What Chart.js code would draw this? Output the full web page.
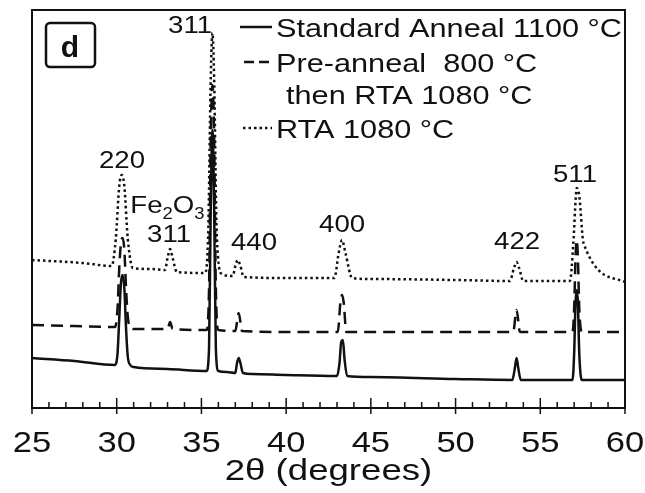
<!DOCTYPE html>
<html>
<head>
<meta charset="utf-8">
<script src="https://cdn.jsdelivr.net/npm/chart.js@4.4.1/dist/chart.umd.min.js"></script>
<style>
  body { margin: 0; background: #fff; }
</style>
</head>
<body>
<canvas id="xrd" width="645" height="493"></canvas>
<script>
// 2θ (degrees) and intensity (a.u.) for each sample
var standardX = [25, 27.5, 29.9, 30.05, 30.15, 30.25, 30.35, 30.45, 30.55, 30.65, 30.8, 31, 33, 35.3, 35.45, 35.55, 35.65, 35.75, 35.85, 36.0, 36.5, 37.0, 37.1, 37.2, 37.3, 37.45, 38, 40, 43.0, 43.15, 43.25, 43.35, 43.45, 43.6, 45, 50, 53.35, 53.5, 53.6, 53.7, 53.85, 55, 56.9, 57.0, 57.08, 57.15, 57.22, 57.3, 57.45, 58, 60];
var standardY = [50, 47, 43, 55, 90, 125, 133, 120, 80, 52, 43, 41, 39, 37, 60, 200, 278, 200, 60, 37, 36, 35, 45, 50, 45, 35, 34, 33, 32, 45, 66, 68, 48, 32, 31, 29, 28, 40, 50, 40, 28, 28, 28, 55, 105, 118, 105, 55, 28, 28, 28];

var preAnnealX = [25, 27.5, 29.9, 30.05, 30.15, 30.25, 30.35, 30.45, 30.55, 30.65, 30.8, 31, 33.0, 33.15, 33.3, 35.3, 35.45, 35.55, 35.65, 35.75, 35.85, 36.0, 37.0, 37.2, 37.4, 40, 43.05, 43.2, 43.3, 43.4, 43.55, 45, 50, 53.4, 53.6, 53.8, 55, 56.9, 57.0, 57.08, 57.15, 57.22, 57.3, 57.45, 60];
var preAnnealY = [83, 82, 81, 100, 140, 165, 170, 158, 120, 92, 80, 79, 79, 86, 79, 78, 120, 270, 323, 270, 120, 78, 77, 95, 77, 76, 76, 105, 113, 105, 76, 76, 76, 76, 98, 76, 76, 76, 100, 150, 168, 150, 100, 76, 76];

var rtaX = [25, 28, 29.7, 29.95, 30.15, 30.3, 30.45, 30.65, 30.95, 32, 32.85, 33.0, 33.15, 33.3, 33.55, 35.2, 35.4, 35.55, 35.65, 35.75, 35.9, 36.2, 36.85, 37.0, 37.15, 37.3, 37.5, 40, 42.85, 43.1, 43.3, 43.5, 43.9, 45, 50, 53.2, 53.45, 53.6, 53.75, 54.0, 55, 56.75, 56.95, 57.1, 57.15, 57.3, 57.55, 60];
var rtaY = [148, 145, 142, 170, 222, 233, 222, 170, 140, 139, 138, 150, 159, 150, 136, 135, 175, 330, 375, 330, 175, 134, 132, 142, 148, 142, 131, 130, 130, 155, 168, 155, 130, 129, 128, 127, 140, 146, 140, 127, 127, 127, 165, 212, 220, 212, 165, 126];

var legendLabels = ['Standard Anneal 1100 °C', 'Pre-anneal  800 °C', 'then RTA 1080 °C', 'RTA 1080 °C'];
var xTicks = [25, 30, 35, 40, 45, 50, 55, 60];
var peakNames = ['311', '220', '311', '440', '400', '422', '511'];

var FONT = '"Liberation Sans", Arial, sans-serif';
var INK = '#111';

function toPoints(xs, ys) {
    var pts = [];
    for (var i = 0; i < xs.length; i++) {
        pts.push({ x: xs[i], y: ys[i] });
    }
    return pts;
}

// text in this figure is a little wide, so stretch it horizontally
function wideText(ctx, text, x, y, align, stretch) {
    ctx.save();
    ctx.translate(x, y);
    ctx.scale(stretch || 1.15, 1);
    ctx.textAlign = align || 'left';
    ctx.fillText(text, 0, 0);
    ctx.restore();
}

function sampleLine(ctx, x1, x2, y, dash, width) {
    ctx.save();
    ctx.strokeStyle = INK;
    ctx.lineWidth = width;
    ctx.setLineDash(dash);
    ctx.beginPath();
    ctx.moveTo(x1, y);
    ctx.lineTo(x2, y);
    ctx.stroke();
    ctx.restore();
}

// frame, inward ticks, tick labels, peak labels, legend and panel tag
var decorations = {
    id: 'decorations',
    afterDraw: function(chart) {
        var ctx = chart.ctx;
        var a = chart.chartArea;
        var xs = chart.scales.x;
        var ys = chart.scales.y;

        ctx.save();
        ctx.strokeStyle = INK;
        ctx.fillStyle = INK;
        ctx.lineWidth = 2;
        ctx.strokeRect(a.left, a.top, a.right - a.left, a.bottom - a.top);

        // ticks every degree, longer ones at labelled positions
        ctx.lineWidth = 1.5;
        for (var t = 25; t <= 60; t++) {
            var px = xs.getPixelForValue(t);
            var major = t % 5 === 0;
            ctx.beginPath();
            ctx.moveTo(px, major ? a.bottom + 6 : a.bottom);
            ctx.lineTo(px, a.bottom - (major ? 10 : 6));
            ctx.stroke();
        }

        ctx.textBaseline = 'alphabetic';
        ctx.font = '30px ' + FONT;
        xTicks.forEach(function(v) {
            wideText(ctx, String(v), xs.getPixelForValue(v), 452, 'center');
        });
        ctx.font = '30px ' + FONT;
        wideText(ctx, '2θ (degrees)', (a.left + a.right) / 2, 480, 'center', 1.22);

        // peak labels: [2θ, intensity] of each label's baseline
        var labelAt = [[34.33, 375], [30.31, 240], [33.09, 166], [38.1, 158], [43.3, 176], [53.63, 159], [57.05, 226]];
        ctx.font = '24px ' + FONT;
        peakNames.forEach(function(name, i) {
            wideText(ctx, name, xs.getPixelForValue(labelAt[i][0]), ys.getPixelForValue(labelAt[i][1]), 'center');
        });

        // Fe2O3 with subscripts
        var fx = xs.getPixelForValue(30.8);
        var fy = ys.getPixelForValue(195);
        ctx.save();
        ctx.translate(fx, fy);
        ctx.scale(1.15, 1);
        ctx.textAlign = 'left';
        ctx.font = '24px ' + FONT;
        ctx.fillText('Fe', 0, 0);
        var w = ctx.measureText('Fe').width;
        ctx.font = '16px ' + FONT;
        ctx.fillText('2', w, 6);
        w += ctx.measureText('2').width;
        ctx.font = '24px ' + FONT;
        ctx.fillText('O', w, 0);
        w += ctx.measureText('O').width;
        ctx.font = '16px ' + FONT;
        ctx.fillText('3', w, 6);
        ctx.restore();

        // legend
        sampleLine(ctx, 240, 272, 27, [], 2.5);
        sampleLine(ctx, 244, 272, 62, [10, 5], 2.5);
        sampleLine(ctx, 243, 272, 128, [2.5, 3], 2.5);
        ctx.font = '26px ' + FONT;
        wideText(ctx, legendLabels[0], 276, 37, 'left', 1.18);
        wideText(ctx, legendLabels[1], 276, 72, 'left', 1.18);
        wideText(ctx, legendLabels[2], 286, 104, 'left', 1.18);
        wideText(ctx, legendLabels[3], 276, 138, 'left', 1.18);

        // panel tag
        ctx.lineWidth = 2.5;
        ctx.beginPath();
        ctx.roundRect(46, 23, 49, 44, 4);
        ctx.stroke();
        ctx.font = 'bold 30px ' + FONT;
        ctx.textAlign = 'center';
        ctx.fillText('d', 70, 57);
        ctx.restore();
    }
};

var ctx = document.getElementById('xrd').getContext('2d');
window.xrdChart = new Chart(ctx, {
    type: 'line',
    data: {
        datasets: [
            {
                label: legendLabels[0],
                data: toPoints(standardX, standardY),
                borderColor: INK,
                borderWidth: 2.5,
                pointRadius: 0,
                cubicInterpolationMode: 'monotone'
            },
            {
                label: legendLabels[1] + ' ' + legendLabels[2],
                data: toPoints(preAnnealX, preAnnealY),
                borderColor: INK,
                borderWidth: 2.5,
                borderDash: [12, 7],
                pointRadius: 0,
                cubicInterpolationMode: 'monotone'
            },
            {
                label: legendLabels[3],
                data: toPoints(rtaX, rtaY),
                borderColor: INK,
                borderWidth: 2.5,
                borderDash: [2.5, 3],
                pointRadius: 0,
                cubicInterpolationMode: 'monotone'
            }
        ]
    },
    options: {
        responsive: false,
        animation: false,
        layout: { padding: { left: 32, top: 10, right: 20, bottom: 85 } },
        scales: {
            x: { type: 'linear', min: 25, max: 60, display: false },
            y: { min: 0, max: 398, display: false }
        },
        plugins: {
            legend: { display: false },
            tooltip: { enabled: false }
        }
    },
    plugins: [decorations]
});
</script>
</body>
</html>
